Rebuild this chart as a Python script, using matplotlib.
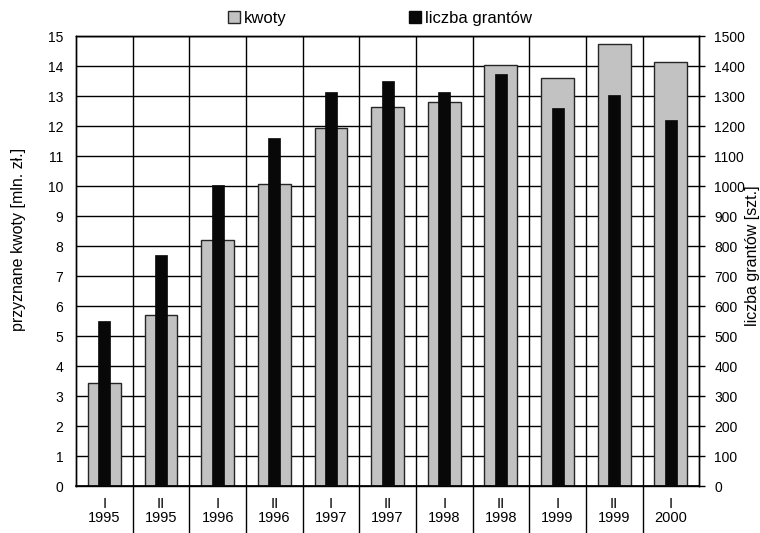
import matplotlib
matplotlib.use('Agg')
from matplotlib import pyplot as plt
from matplotlib.patches import Patch
import numpy as np

# polrocza i lata
halves = ['I', 'II', 'I', 'II', 'I', 'II', 'I', 'II', 'I', 'II', 'I']
years = ['1995', '1995', '1996', '1996', '1997', '1997', '1998', '1998', '1999', '1999', '2000']
# przyznane kwoty [mln zl]
kwoty = [3.45, 5.7, 8.22, 10.08, 11.95, 12.65, 12.8, 14.05, 13.6, 14.75, 14.15]
# liczba grantow [szt.]
granty = [551, 770, 1005, 1162, 1315, 1350, 1315, 1375, 1262, 1305, 1220]

plt.rcParams['font.family'] = ['Liberation Sans', 'DejaVu Sans']

fig = plt.figure(figsize=(7.6, 5.33), dpi=100)
ax = fig.add_axes([0.1, 0.088, 0.82, 0.844])
ax2 = ax.twinx()

x = np.arange(len(kwoty))
ax.bar(x, kwoty, width=0.58, color='#c2c2c2', edgecolor='#262626', linewidth=1.0, zorder=2)
ax2.bar(x, granty, width=0.21, color='#080808', edgecolor='#080808', linewidth=0.5, zorder=3)

ax.set_xlim(-0.5, len(kwoty) - 0.5)
ax.set_ylim(0, 15)
ax2.set_ylim(0, 1500)
ax.set_yticks(range(0, 16))
ax2.set_yticks(range(0, 1501, 100))

ax.set_xticks(x)
ax.set_xticklabels([f'{h}\n{y}' for h, y in zip(halves, years)], fontsize=10.5, linespacing=0.95)
ax.set_xticks(x[:-1] + 0.5, minor=True)
ax.tick_params(axis='x', which='major', length=0, pad=8)
ax.tick_params(axis='x', which='minor', length=34, width=1, direction='out', color='black')
ax.tick_params(axis='y', length=0, pad=9, labelsize=10)
ax2.tick_params(axis='y', length=4, width=1, pad=7, labelsize=10, color='black')

ax.set_axisbelow(True)
ax.grid(which='major', axis='y', color='black', linewidth=1)
ax.grid(which='minor', axis='x', color='black', linewidth=1)
for a in (ax, ax2):
    for s in a.spines.values():
        s.set_linewidth(1)
        s.set_color('black')
ax.spines['bottom'].set_linewidth(1.2)

fig.text(0.024, 0.55, 'przyznane kwoty [mln. zł.]', rotation=90, fontsize=11.5,
         ha='center', va='center')
fig.text(0.99, 0.52, 'liczba grantów [szt.]', rotation=90, fontsize=11.5,
         ha='center', va='center')

handles = [Patch(facecolor='#c2c2c2', edgecolor='#262626', linewidth=1.0, label='kwoty'),
           Patch(facecolor='#080808', edgecolor='#080808', label='liczba grantów')]
fig.legend(handles=handles, loc='center', bbox_to_anchor=(0.5, 0.966), ncol=2, frameon=False,
           fontsize=12, handlelength=0.75, handleheight=0.75, handletextpad=0.25,
           columnspacing=7.3, borderaxespad=0)

fig.savefig('out.png', dpi=100)
